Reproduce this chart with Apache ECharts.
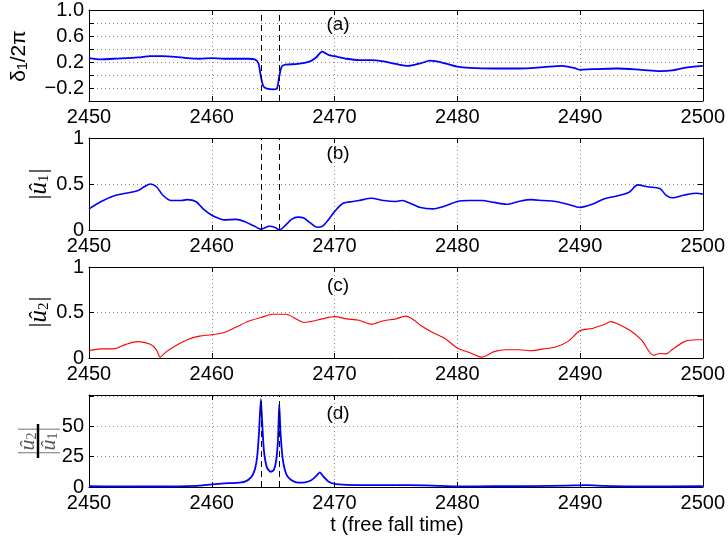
<!DOCTYPE html>
<html><head><meta charset="utf-8">
<script src="https://cdn.jsdelivr.net/npm/echarts@6/dist/echarts.min.js"></script>
<style>html,body{margin:0;padding:0;background:#fff}#c{width:728px;height:540px}</style>
</head><body><div id="c"></div>
<script>
// ---- data ----
const xMin = 2450, xMax = 2500, xInterval = 10;
const dashedTimes = [2464.0, 2465.5];

const tA = [2450,2451,2452,2454,2455,2456,2457,2458,2459,2460,2461,2462,2463,2463.5,2463.8,2464,2464.2,2464.5,2465,2465.3,2465.5,2465.7,2466,2467,2468,2468.5,2469,2469.5,2470,2471,2472,2473,2474,2475,2476,2477,2477.8,2479,2480,2481,2483,2485,2487,2488.5,2489.5,2490,2491,2493,2495,2496.5,2497.5,2498.5,2500];
const vA = [0.26,0.24,0.25,0.27,0.29,0.29,0.28,0.26,0.25,0.26,0.25,0.25,0.25,0.24,0.18,-0.02,-0.17,-0.21,-0.22,-0.21,-0.02,0.13,0.16,0.17,0.21,0.27,0.36,0.31,0.29,0.25,0.23,0.23,0.21,0.17,0.14,0.18,0.22,0.18,0.13,0.11,0.10,0.10,0.12,0.14,0.11,0.08,0.09,0.10,0.08,0.06,0.07,0.11,0.14];

const tB = [2450,2451,2452,2453,2454,2454.5,2455,2455.5,2456,2456.7,2457.5,2458,2458.7,2459.3,2460,2460.5,2461,2462,2462.7,2463.5,2464,2464.7,2465.2,2465.5,2466,2466.5,2467,2467.5,2468,2468.6,2469,2469.5,2470,2470.7,2471.5,2472,2473,2474,2475,2475.5,2476,2477,2478,2479,2480,2481,2482,2483,2484,2485,2486,2487,2488,2489,2490,2491,2492,2493,2494,2494.7,2495.5,2496.5,2497,2497.5,2498.5,2499.5,2500];
const vB = [0.23,0.31,0.37,0.40,0.43,0.47,0.50,0.47,0.38,0.32,0.32,0.33,0.31,0.23,0.16,0.13,0.11,0.115,0.09,0.04,0.01,0.04,0.025,0.0,0.05,0.115,0.14,0.13,0.08,0.03,0.04,0.11,0.20,0.29,0.31,0.32,0.345,0.32,0.31,0.32,0.30,0.245,0.23,0.26,0.31,0.32,0.32,0.30,0.28,0.31,0.33,0.32,0.31,0.28,0.245,0.28,0.34,0.37,0.41,0.49,0.47,0.45,0.38,0.35,0.38,0.40,0.39];

const tC = [2450,2451,2452,2453,2454,2455,2455.5,2455.8,2456.3,2457,2458,2459,2460,2461,2462,2463,2464,2465,2466,2467,2467.5,2468,2469,2470,2471,2472,2473,2474,2475,2475.8,2476.5,2477,2478,2479,2480,2481,2482,2483,2484,2485,2486,2487,2488,2489,2490,2491,2492,2492.5,2493,2494,2495,2496,2496.5,2497,2497.5,2498.5,2499.5,2500];
const vC = [0.08,0.10,0.10,0.15,0.18,0.15,0.09,0.01,0.07,0.13,0.20,0.24,0.255,0.28,0.34,0.405,0.445,0.48,0.48,0.42,0.39,0.40,0.43,0.455,0.43,0.415,0.37,0.41,0.43,0.46,0.415,0.36,0.28,0.215,0.11,0.06,0.01,0.07,0.09,0.09,0.08,0.10,0.12,0.18,0.30,0.325,0.37,0.40,0.38,0.31,0.20,0.03,0.05,0.045,0.09,0.18,0.20,0.20];

const tD = [2450,2452,2454,2456,2458,2459,2460,2461,2462,2462.7,2463.2,2463.5,2463.7,2463.85,2464.0,2464.1,2464.25,2464.5,2464.8,2465.05,2465.25,2465.4,2465.5,2465.6,2465.8,2466.1,2466.5,2467,2467.6,2468.1,2468.5,2468.8,2469.1,2469.5,2470,2471,2473,2476,2478,2480,2483,2486,2489,2490.5,2492,2495,2500];
const vD = [0.6,0.5,0.4,0.4,0.8,1.2,2.2,3.0,3.4,4.5,8,14,25,45,72.5,55,30,16,12.6,14,22,40,68.4,45,22,10,5.5,3.6,3.8,5.5,9,12,8.5,4.5,2.5,1.8,1.5,1.6,1.2,0.5,0.6,0.7,1.2,1.5,1.0,0.5,0.6];

const yA = {min:-0.4, max:1.0, interval:0.2, labels:['1.0','0.6','0.2','-0.2'], dec:1};
const yB = {min:0, max:1, interval:0.5, labels:['0','0.5','1'], dec:-1};
const yC = {min:0, max:1, interval:0.5, labels:['0','0.5','1'], dec:-1};
const yD = {min:0, max:76, interval:25, labels:['0','25','50'], dec:-1};

// ---- layout ----
const grids = [
  {left:89, width:617, top:10, height:91},
  {left:89, width:617, top:138, height:92},
  {left:89, width:617, top:267, height:91},
  {left:89, width:617, top:395, height:92}
];
const FONT = 'Liberation Sans, Arial, sans-serif';
const zip = (t, v) => t.map((x, i) => [x, v[i]]);

const xAxes = [], yAxes = [];
grids.forEach((g, i) => {
  xAxes.push({
    gridIndex:i, type:'value', min:xMin, max:xMax, interval:xInterval, position:'bottom',
    axisLine:{onZero:false, lineStyle:{color:'#000', width:1}},
    axisTick:{inside:true, length:5, lineStyle:{color:'#000'}},
    axisLabel:{color:'#000', fontSize:20, fontFamily:FONT, margin:6, formatter: v => String(v)},
    splitLine:{show:true, lineStyle:{color:'#888', type:[1,3], width:1}}
  });
  xAxes.push({
    gridIndex:i, type:'value', min:xMin, max:xMax, interval:xInterval, position:'top',
    axisLine:{onZero:false, lineStyle:{color:'#000', width:1}},
    axisTick:{inside:true, length:5, lineStyle:{color:'#000'}},
    axisLabel:{show:false}, splitLine:{show:false}
  });
});
[yA, yB, yC, yD].forEach((y, i) => {
  yAxes.push({
    gridIndex:i, type:'value', min:y.min, max:y.max, interval:y.interval, position:'left',
    axisLine:{onZero:false, lineStyle:{color:'#000', width:1}},
    axisTick:{inside:true, length:5, lineStyle:{color:'#000'}},
    axisLabel:{color:'#000', fontSize:20, fontFamily:FONT, margin:5,
      formatter: v => {
        const s = (Math.abs(v) < 1e-9 ? 0 : v);
        const str = y.dec > 0 ? s.toFixed(y.dec) : String(Math.round(s*10)/10);
        return y.labels.indexOf(str) >= 0 ? str.replace('-', '\u2212') : '';
      }},
    splitLine:{show:true, lineStyle:{color:'#888', type:[1,3], width:1}}
  });
  yAxes.push({
    gridIndex:i, type:'value', min:y.min, max:y.max, interval:y.interval, position:'right',
    axisLine:{onZero:false, lineStyle:{color:'#000', width:1}},
    axisTick:{inside:true, length:5, lineStyle:{color:'#000'}},
    axisLabel:{show:false}, splitLine:{show:false}
  });
});

const dashMark = {
  silent:true, symbol:['none','none'], label:{show:false},
  lineStyle:{color:'#000', type:[6,4], width:1},
  data: dashedTimes.map(t => ({xAxis:t}))
};

function lineSeries(idx, data, color, width, mark, sm) {
  const s = {
    type:'line', xAxisIndex:idx*2, yAxisIndex:idx*2, data:data,
    showSymbol:false, smooth:sm,
    lineStyle:{color:color, width:width}, itemStyle:{color:color}, z:3
  };
  if (mark) s.markLine = dashMark;
  return s;
}

const panelLabels = ['(a)','(b)','(c)','(d)'];
const labelY = [25, 154, 286, 414];

const graphic = panelLabels.map((t, i) => ({
  type:'text', x:338, y:labelY[i],
  style:{text:t, fontSize:19, fontFamily:FONT, fill:'#000', align:'center', verticalAlign:'middle'}
}));

const serif = 'Liberation Serif, Times New Roman, serif';
graphic.push({
  type:'text', x:19, y:56, rotation:Math.PI/2,
  style:{text:'{a|δ}{s|1}{a|/2π}', align:'center', verticalAlign:'middle',
    rich:{a:{fontSize:21, fontFamily:FONT, fill:'#000'}, s:{fontSize:14, fontFamily:FONT, fill:'#000', padding:[9,0,0,0]}}}
});
function absU(n, x, y) {
  return {
    type:'text', x:x, y:y, rotation:Math.PI/2,
    style:{text:'{b||}{u|û}{s|'+n+'}{b||}', align:'center', verticalAlign:'middle',
      rich:{b:{fontSize:25, fontFamily:serif, fill:'#000'},
            u:{fontSize:25, fontFamily:serif, fontStyle:'italic', fill:'#000'},
            s:{fontSize:15, fontFamily:serif, fill:'#000', padding:[10,1,0,0]}}}
  };
}
graphic.push(absU('1', 39, 184));
graphic.push(absU('2', 39, 312));
// fraction |û2| / |û1|
function fracPart(n, dy) {
  return {
    type:'text', x:0, y:dy,
    style:{text:'{b||}{u|û}{s|'+n+'}{b||}', align:'center', verticalAlign:'middle',
      rich:{b:{fontSize:23, fontFamily:serif, fill:'#888'},
            u:{fontSize:22, fontFamily:serif, fontStyle:'italic', fill:'#555'},
            s:{fontSize:14, fontFamily:serif, fill:'#555', padding:[9,1,0,0]}}}
  };
}
graphic.push({
  type:'group', x:38, y:441, rotation:Math.PI/2,
  children:[
    fracPart('2', -10),
    {type:'line', shape:{x1:-17, y1:0, x2:17, y2:0}, style:{stroke:'#000', lineWidth:2.5}},
    fracPart('1', 11)
  ]
});
graphic.push({
  type:'text', x:397, y:525,
  style:{text:'t (free fall time)', fontSize:20, fontFamily:FONT, fill:'#000', align:'center', verticalAlign:'middle'}
});

const option = {
  animation:false,
  backgroundColor:'#fff',
  grid: grids,
  xAxis: xAxes,
  yAxis: yAxes,
  series: [
    lineSeries(0, zip(tA, vA), '#0000ff', 1.8, true, 0.3),
    lineSeries(1, zip(tB, vB), '#0000ff', 1.6, true, 0.3),
    lineSeries(2, zip(tC, vC), '#ff0000', 1.1, false, 0.3),
    lineSeries(3, zip(tD, vD), '#0000ff', 1.8, true, 0.2)
  ],
  graphic: graphic
};
const chart = echarts.init(document.getElementById('c'), null, {renderer:'canvas'});
chart.setOption(option);
</script></body></html>
